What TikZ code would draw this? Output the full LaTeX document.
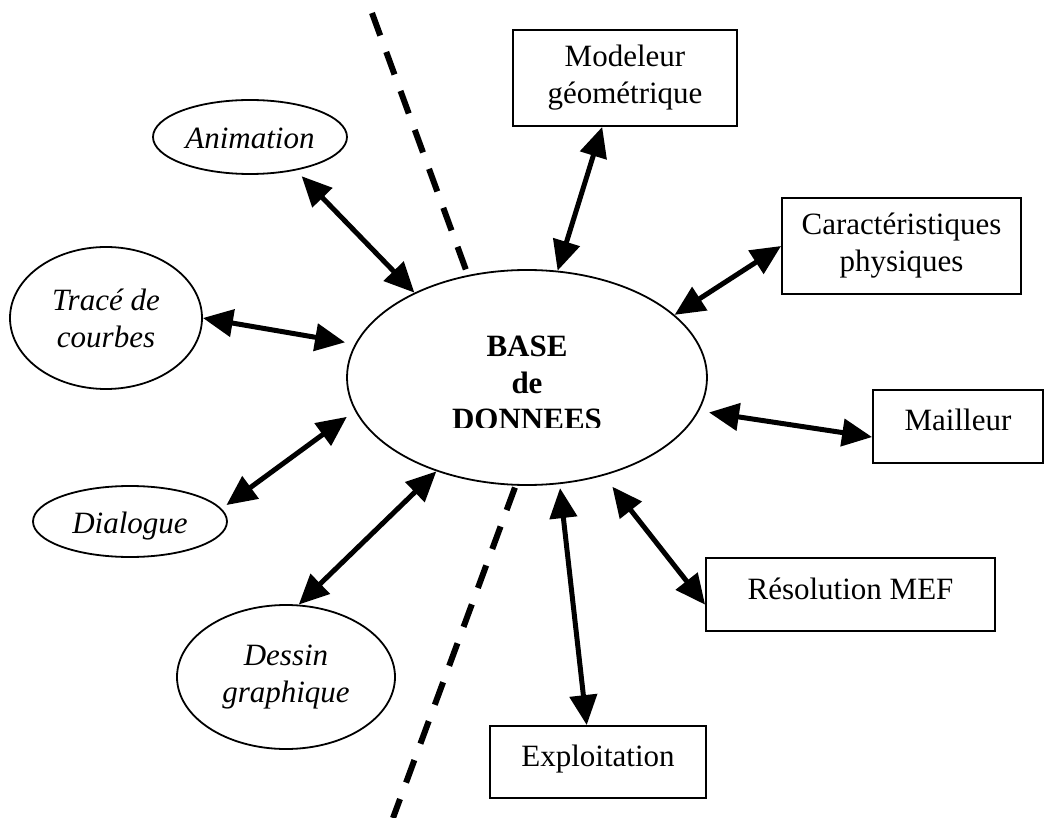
\documentclass[tikz,border=0pt]{standalone}
\usepackage{fontspec}
\setmainfont{Liberation Serif}
\usetikzlibrary{shapes.geometric,arrows.meta}

\begin{document}
\begin{tikzpicture}[x=1pt,y=-1pt,
    txt/.style={font=\fontsize{31}{37}\selectfont,align=center,inner sep=0pt},
    toolbox/.style={txt,draw,rectangle,line width=1.8pt},
    onebox/.style={toolbox,text height=21pt,text depth=12pt},
    toolell/.style={txt,draw,ellipse,line width=1.8pt,font=\fontsize{31}{37}\selectfont\itshape},
    oneell/.style={toolell,text height=24pt,text depth=0pt},
    link/.style={line width=5pt,{Triangle[length=\headLen,width=\headWid]}-{Triangle[length=\headLen,width=\headWid]}},
    split/.style={line width=6pt,dash pattern=on 24pt off 17.5pt}]

    % Arrow head size
    \def\headLen{30pt}
    \def\headWid{27pt}

    % Draw page background
    \fill[white] (0,0) rectangle (1061,818);
    \useasboundingbox (0,0) rectangle (1061,818);

    % Draw central database ellipse
    \node[draw,ellipse,line width=1.8pt,minimum width=360pt,minimum height=215pt] (db) at (527,377.5) {};
    \begin{scope}
      \clip (400,300) rectangle (660,428);
      \node[txt,font=\fontsize{31}{36.5}\selectfont\bfseries] (dbname) at (527,383) {BASE\\de\\DONNEES};
    \end{scope}

    % Draw left side modules (ellipses)
    \node[oneell,minimum width=194pt,minimum height=74pt] (anim) at (250,137) {Animation};
    \node[toolell,minimum width=192pt,minimum height=142pt] (trace) at (106,318) {Tracé de\\courbes};
    \node[oneell,minimum width=194pt,minimum height=71pt] (dial) at (130,521.5) {Dialogue};
    \node[toolell,minimum width=218pt,minimum height=144pt] (dessin) at (286,677) {Dessin\\graphique};

    % Draw right side modules (boxes)
    \node[toolbox,minimum width=224pt,minimum height=96pt] (model) at (625,78) {Modeleur\\géométrique};
    \node[toolbox,minimum width=239pt,minimum height=96pt] (caract) at (901.5,246) {Caractéristiques\\physiques};
    \node[onebox,minimum width=170pt,minimum height=73pt] (mail) at (958,426.5) {Mailleur};
    \node[onebox,minimum width=289pt,minimum height=73pt] (reso) at (850.5,594.5) {Résolution MEF};
    \node[onebox,minimum width=216pt,minimum height=72pt] (exploit) at (598,762) {Exploitation};

    % Draw dashed separation lines
    \coordinate (topend) at (372,13);
    \coordinate (botend) at (393,818);
    \draw[split,shorten >=5pt] (topend) -- (db.120);
    \draw[split,shorten <=2pt] (db.264) -- (botend);

    % Draw double arrows to the database
    \draw[link,shorten <=8pt] (anim.-36) -- (db.143);
    \draw[link,shorten >=10pt] (trace.east) -- (db.169);
    \draw[link,shorten <=6pt,shorten >=10pt] (dial.8) -- (db.191.5);
    \draw[link] (dessin.80) -- (db.226);
    \draw[link] (model.-115) -- (db.74.5);
    \draw[link] (caract.west) -- (db.23);
    \draw[link,shorten >=10pt] (mail.187) -- (db.-11.6);
    \draw[link,shorten >=14pt] (reso.184) -- (db.-52.6);
    \draw[link,shorten >=4pt] (exploit.107) -- (db.-73.3);
\end{tikzpicture}
\end{document}
